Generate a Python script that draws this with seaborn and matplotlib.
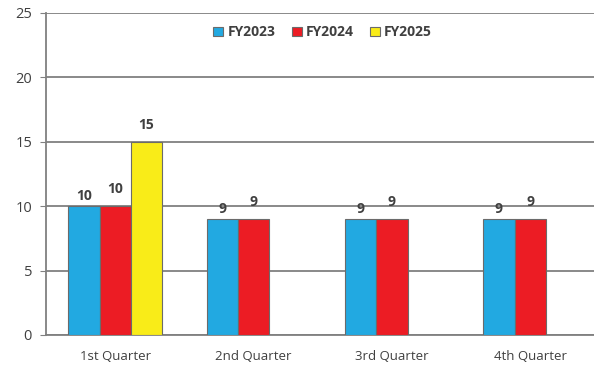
import matplotlib
matplotlib.use("Agg")
import matplotlib.pyplot as plt
import numpy as np
import pandas as pd
import seaborn as sns

quarters = ["1st Quarter", "2nd Quarter", "3rd Quarter", "4th Quarter"]
fy2023 = [10, 9, 9, 9]
fy2024 = [10, 9, 9, 9]
fy2025 = [15, np.nan, np.nan, np.nan]
years = ["FY2023", "FY2024", "FY2025"]
colores = ["#22A9E1", "#EC1C24", "#F9EC18"]

df = pd.DataFrame({
    "quarter": quarters * 3,
    "year": [y for y in years for _ in quarters],
    "value": fy2023 + fy2024 + fy2025,
})

sns.set_style("white")
plt.rcParams["font.family"] = ["Open Sans", "DejaVu Sans"]

fig = plt.figure(figsize=(5.94, 3.71), dpi=100)
ax = fig.add_axes([46 / 594, 36 / 371, 548 / 594, 322 / 371])

sns.barplot(data=df, x="quarter", y="value", hue="year", order=quarters,
            hue_order=years, palette=colores, width=0.68, saturation=1,
            edgecolor="#6b6b6b", linewidth=0.8, ax=ax, zorder=3)

# etiquetas de valor (um pouco desfasadas como no original)
pads = [2, 7, 7]
for cont, p in zip(ax.containers, pads):
    ax.bar_label(cont, padding=p, fontsize=10, fontweight="bold", color="#404040")

ax.set_ylim(0, 25)
ax.set_yticks([0, 5, 10, 15, 20, 25])
ax.set_xlim(-0.5, 3.46)
ax.set_xlabel("")
ax.set_ylabel("")
ax.yaxis.grid(True, color="#808080", linewidth=1.3, zorder=0)
ax.set_axisbelow(True)

for s in ["top", "right"]:
    ax.spines[s].set_visible(False)
for s in ["left", "bottom"]:
    ax.spines[s].set_color("#808080")
    ax.spines[s].set_linewidth(1.3)

ax.set_xticks([0.5, 1.5, 2.5], minor=True)
ax.tick_params(axis="x", which="major", length=0, pad=11, labelsize=9.5, labelcolor="#404040")
ax.tick_params(axis="x", which="minor", length=4, color="#808080", direction="out")
ax.tick_params(axis="y", length=4, color="#808080", direction="out", left=True,
               labelsize=10.5, labelcolor="#404040", pad=6)

handles, labels = ax.get_legend_handles_labels()
ax.legend(handles, labels, ncol=3, loc="center", bbox_to_anchor=(0.505, 0.94),
          frameon=False, handlelength=0.7, handleheight=0.7, handletextpad=0.3,
          columnspacing=1.2, prop={"weight": "bold", "size": 10},
          labelcolor="#404040")

fig.savefig("out.png", dpi=100)
